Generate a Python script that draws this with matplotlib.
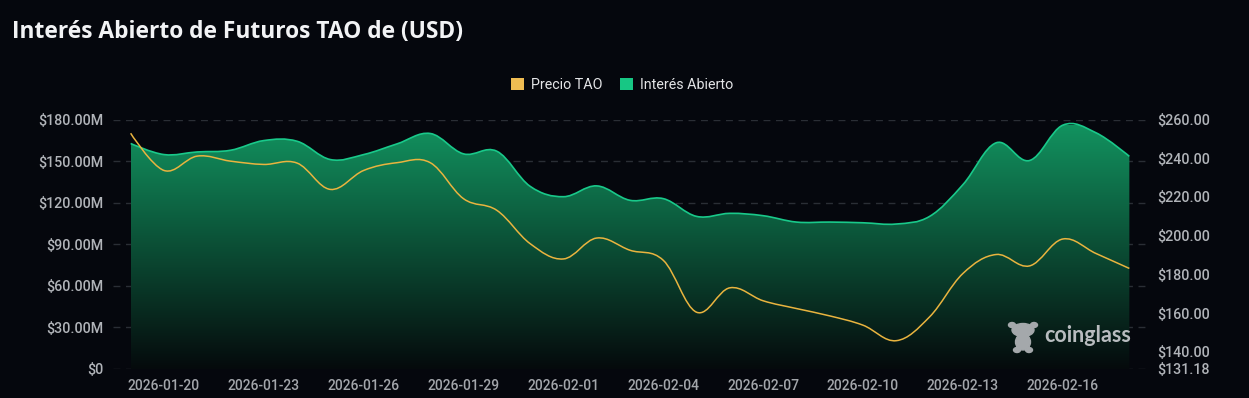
import numpy as np
import pandas as pd
import matplotlib
matplotlib.use('Agg')
import matplotlib.pyplot as plt
import matplotlib.dates as mdates
from matplotlib.path import Path
from matplotlib.patches import PathPatch, Patch, Ellipse, FancyBboxPatch
from matplotlib.colors import LinearSegmentedColormap
from matplotlib.ticker import FuncFormatter, FixedLocator

# daily data
dates = pd.date_range('2026-01-19', '2026-02-18', freq='D')
open_interest = [162.7, 154.7, 156.6, 157.8, 164.8, 164.3, 151.1, 154.7, 162.4, 169.9,
                 155.2, 157.1, 131.8, 124.3, 132.1, 121.7, 122.9, 110.1, 112.3, 110.6,
                 106.0, 106.0, 105.5, 104.6, 110.1, 133.0, 163.2, 150.4, 175.9, 170.4,
                 153.4]  # millions USD
tao_price = [252.9, 233.7, 241.1, 238.5, 236.8, 237.5, 223.9, 233.7, 237.7, 237.7,
             219.1, 213.1, 195.9, 188.0, 198.8, 192.5, 187.3, 160.5, 173.1, 166.4,
             162.4, 158.6, 153.8, 145.8, 158.1, 180.5, 190.3, 184.4, 198.3, 190.8,
             183.1]
oi_ticks = [0, 30, 60, 90, 120, 150, 180]
price_ticks = [131.18, 140, 160, 180, 200, 220, 240, 260]
date_ticks = pd.date_range('2026-01-20', '2026-02-16', freq='3D')

BG = '#05070d'
GREEN = '#19c98a'
YELLOW = '#e9b43f'
LABEL = '#b1b4b9'
W, H = 1249, 398


def smooth_path(x, y, k=0.18):
    """Cubic bezier path through the points (like a smoothed line)."""
    pts = np.column_stack([x, y])
    n = len(pts)
    tang = np.zeros_like(pts)
    tang[1:-1] = pts[2:] - pts[:-2]
    verts = [pts[0]]
    codes = [Path.MOVETO]
    for i in range(n - 1):
        verts += [pts[i] + tang[i] * k, pts[i + 1] - tang[i + 1] * k, pts[i + 1]]
        codes += [Path.CURVE4] * 3
    return verts, codes


def fx(px):
    return px / W


def fy(py):
    return 1 - py / H


fig = plt.figure(figsize=(W / 100, H / 100), dpi=100, facecolor=BG)
ax = fig.add_axes([fx(113), 29 / H, 1033 / W, 249.5 / H])
ax.set_facecolor(BG)
ax2 = ax.twinx()

xnum = mdates.date2num(dates)

# open interest area with vertical gradient
verts, codes = smooth_path(xnum, np.array(open_interest))
area_verts = verts + [(xnum[-1], 0), (xnum[0], 0), (xnum[0], 0)]
area_codes = codes + [Path.LINETO, Path.LINETO, Path.CLOSEPOLY]
area = PathPatch(Path(area_verts, area_codes), facecolor='none', edgecolor='none')
ax.add_patch(area)
cmap = LinearSegmentedColormap.from_list('oi', ['#050a0c', '#0b4e35', '#12925f'])
grad = np.linspace(0, 1, 256).reshape(-1, 1)
img = ax.imshow(grad, extent=[xnum[0], xnum[-1], 0, max(open_interest)], origin='lower',
                aspect='auto', cmap=cmap, zorder=1)
img.set_clip_path(area)
line_oi = PathPatch(Path(verts, codes), facecolor='none', edgecolor=GREEN, lw=1.2, zorder=2)
ax.add_patch(line_oi)

# price line
pverts, pcodes = smooth_path(xnum, np.array(tao_price))
ax2.add_patch(PathPatch(Path(pverts, pcodes), facecolor='none', edgecolor=YELLOW, lw=1.1))

ax.set_xlim(xnum[0] - 0.53, xnum[-1] + 0.5)
ax.set_ylim(0, 180)
ax2.set_ylim(131.18, 260)

ax.yaxis.set_major_locator(FixedLocator(oi_ticks))
ax.yaxis.set_major_formatter(FuncFormatter(lambda v, p: '$0' if v == 0 else f'${v:.2f}M'))
ax2.yaxis.set_major_locator(FixedLocator(price_ticks))
ax2.yaxis.set_major_formatter(FuncFormatter(lambda v, p: f'${v:.2f}'))
ax.set_xticks(mdates.date2num(date_ticks))
ax.xaxis.set_major_formatter(mdates.DateFormatter('%Y-%m-%d'))

ax.grid(axis='y', color='#2a2e35', ls=(0, (5, 4)), lw=1)
ax.set_axisbelow(True)
for a in (ax, ax2):
    for s in a.spines.values():
        s.set_visible(False)
ax.tick_params(axis='x', length=0, pad=7, labelsize=10, labelcolor='#a3a6ab')
ax.tick_params(axis='y', length=0, pad=7, labelsize=10.3, labelcolor=LABEL)
ax2.tick_params(axis='y', length=0, pad=8, labelsize=10.3, labelcolor=LABEL)
for lab in ax.get_xticklabels() + ax.get_yticklabels() + ax2.get_yticklabels():
    lab.set_family('Roboto')
    lab.set_fontweight('medium')

fig.text(fx(12), fy(32), 'Interés Abierto de Futuros TAO de (USD)',
         color='#f2f3f5', fontsize=16.4, fontweight='bold', family='Open Sans', va='center')

handles = [Patch(facecolor='#efbc52', label='Precio TAO'),
           Patch(facecolor='#17c784', label='Interés Abierto')]
leg = fig.legend(handles=handles, loc='center', bbox_to_anchor=(fx(622), fy(85)),
                 ncol=2, frameon=False, handlelength=0.9, handleheight=0.9,
                 handletextpad=0.5, columnspacing=1.2, prop={'family': 'Roboto', 'size': 10.3})
for t in leg.get_texts():
    t.set_color('#e4e5e7')

# watermark: mascot + name
ICON = '#a4a8ab'
fig.add_artist(Ellipse((fx(1023), fy(330)), fx(22), 13 / H, color=ICON, zorder=6))
fig.add_artist(Ellipse((fx(1012), fy(325)), fx(7), 5 / H, color=ICON, zorder=6))
fig.add_artist(Ellipse((fx(1034), fy(325)), fx(7), 5 / H, color=ICON, zorder=6))
fig.add_artist(Ellipse((fx(1023), fy(342)), fx(15), 16 / H, color=ICON, zorder=6))
fig.add_artist(Ellipse((fx(1017), fy(350)), fx(7), 5 / H, color=ICON, zorder=6))
fig.add_artist(Ellipse((fx(1029), fy(350)), fx(7), 5 / H, color=ICON, zorder=6))
fig.text(fx(1044), fy(336), 'coinglass', color='#b8bcbf', fontsize=15.5,
         fontweight='bold', family='Lato', va='center', ha='left', zorder=6)

fig.savefig('out.png', dpi=100, facecolor=BG)
